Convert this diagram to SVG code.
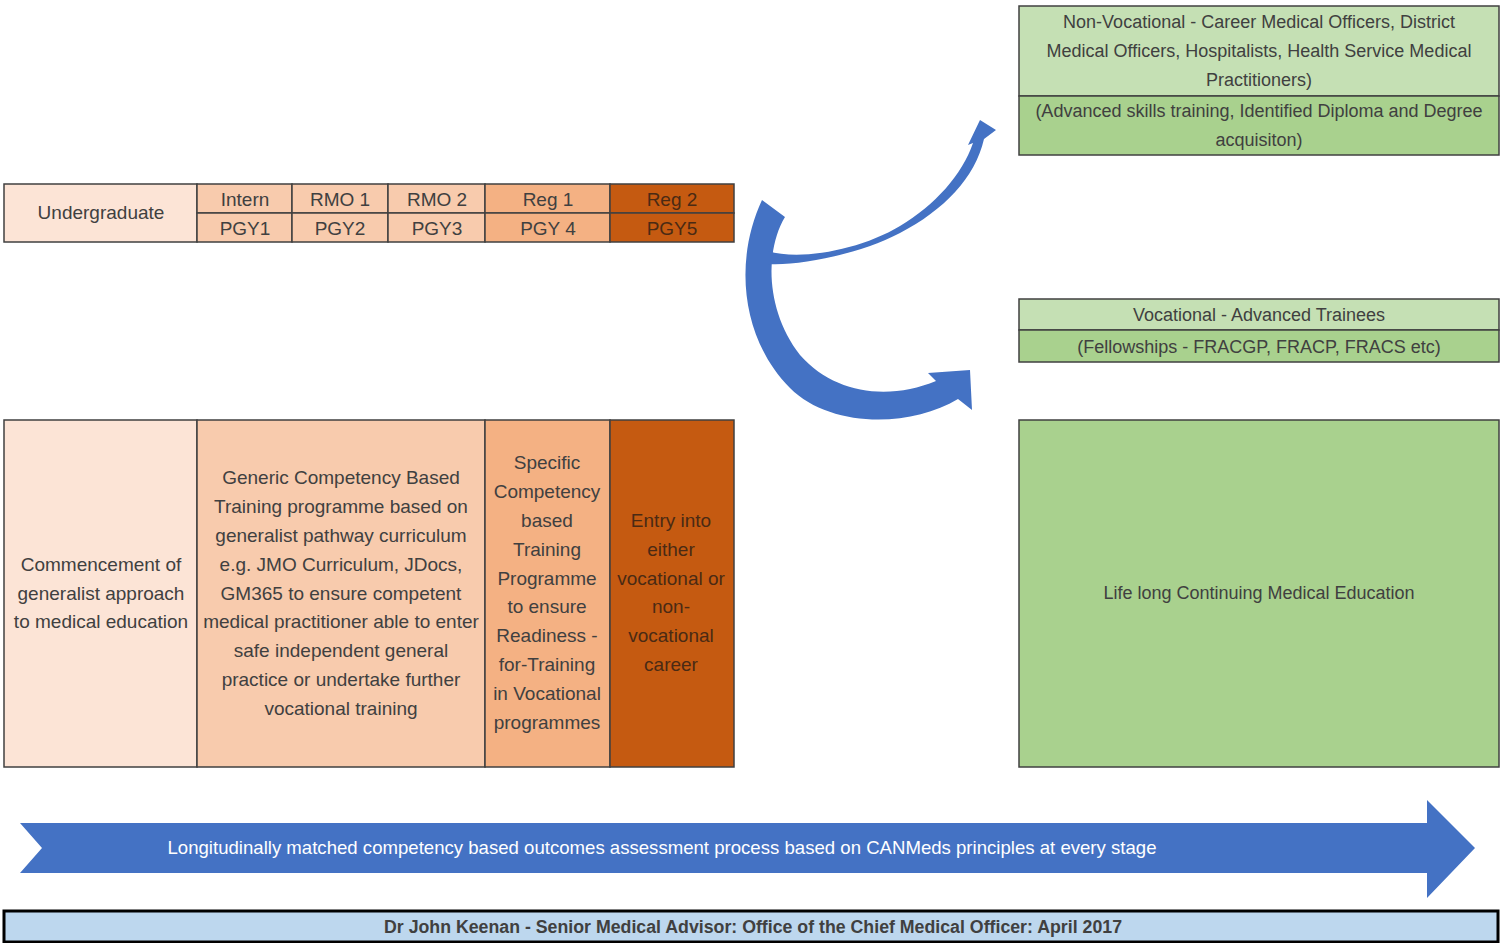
<svg xmlns="http://www.w3.org/2000/svg" width="1500" height="943" viewBox="0 0 1500 943">
<style>
.t{font-family:"Liberation Sans",Arial,sans-serif;font-size:19px;fill:#404040;text-anchor:middle}
.g{font-family:"Liberation Sans",Arial,sans-serif;font-size:18px;fill:#404040;text-anchor:middle}
.c{stroke:#404040;stroke-width:1.5}
.p1{fill:#FCE4D6}.p2{fill:#F8CBAD}.p3{fill:#F4B183}.p4{fill:#C55A11}
.g1{fill:#C5E0B4}.g2{fill:#A9D18E}
.arr{fill:#4472C4}
</style>
<rect width="1500" height="943" fill="#ffffff"/>

<g id="timeline">
<rect class="p1 c" x="4" y="184" width="193" height="58"/>
<rect class="p2 c" x="197" y="184" width="95" height="29"/>
<rect class="p2 c" x="197" y="213" width="95" height="29"/>
<rect class="p2 c" x="292" y="184" width="96" height="29"/>
<rect class="p2 c" x="292" y="213" width="96" height="29"/>
<rect class="p2 c" x="388" y="184" width="97" height="29"/>
<rect class="p2 c" x="388" y="213" width="97" height="29"/>
<rect class="p3 c" x="485" y="184" width="125" height="29"/>
<rect class="p3 c" x="485" y="213" width="125" height="29"/>
<rect class="p4 c" x="610" y="184" width="124" height="29"/>
<rect class="p4 c" x="610" y="213" width="124" height="29"/>
<text class="t" x="101" y="219">Undergraduate</text>
<text class="t" x="245" y="206">Intern</text>
<text class="t" x="245" y="235">PGY1</text>
<text class="t" x="340" y="206">RMO 1</text>
<text class="t" x="340" y="235">PGY2</text>
<text class="t" x="437" y="206">RMO 2</text>
<text class="t" x="437" y="235">PGY3</text>
<text class="t" x="548" y="206">Reg 1</text>
<text class="t" x="548" y="235">PGY 4</text>
<text class="t" x="672" y="206" style="fill:#4a2a14">Reg 2</text>
<text class="t" x="672" y="235" style="fill:#4a2a14">PGY5</text>
</g>

<g id="stage-undergrad">
<rect class="p1 c" x="4" y="420" width="193" height="347"/>
<text class="t" x="101" y="571">Commencement of</text>
<text class="t" x="101" y="600">generalist approach</text>
<text class="t" x="101" y="628">to medical education</text>
</g>

<g id="stage-generic">
<rect class="p2 c" x="197" y="420" width="288" height="347"/>
<text class="t" x="341" y="484">Generic Competency Based</text>
<text class="t" x="341" y="513">Training programme based on</text>
<text class="t" x="341" y="542">generalist pathway curriculum</text>
<text class="t" x="341" y="571">e.g. JMO Curriculum, JDocs,</text>
<text class="t" x="341" y="600">GM365 to ensure competent</text>
<text class="t" x="341" y="628">medical practitioner able to enter</text>
<text class="t" x="341" y="657">safe independent general</text>
<text class="t" x="341" y="686">practice or undertake further</text>
<text class="t" x="341" y="715">vocational training</text>
</g>

<g id="stage-specific">
<rect class="p3 c" x="485" y="420" width="125" height="347"/>
<text class="t" x="547" y="469">Specific</text>
<text class="t" x="547" y="498">Competency</text>
<text class="t" x="547" y="527">based</text>
<text class="t" x="547" y="556">Training</text>
<text class="t" x="547" y="585">Programme</text>
<text class="t" x="547" y="613">to ensure</text>
<text class="t" x="547" y="642">Readiness -</text>
<text class="t" x="547" y="671">for-Training</text>
<text class="t" x="547" y="700">in Vocational</text>
<text class="t" x="547" y="729">programmes</text>
</g>

<g id="stage-entry">
<rect class="p4 c" x="610" y="420" width="124" height="347"/>
<text class="t" x="671" y="527" style="fill:#4a2a14">Entry into</text>
<text class="t" x="671" y="556" style="fill:#4a2a14">either</text>
<text class="t" x="671" y="585" style="fill:#4a2a14">vocational or</text>
<text class="t" x="671" y="613" style="fill:#4a2a14">non-</text>
<text class="t" x="671" y="642" style="fill:#4a2a14">vocational</text>
<text class="t" x="671" y="671" style="fill:#4a2a14">career</text>
</g>

<g id="non-vocational">
<rect class="g1 c" x="1019" y="6" width="480" height="90"/>
<rect class="g2 c" x="1019" y="96" width="480" height="59"/>
<text class="g" x="1259" y="28">Non-Vocational - Career Medical Officers, District</text>
<text class="g" x="1259" y="57">Medical Officers, Hospitalists, Health Service Medical</text>
<text class="g" x="1259" y="86">Practitioners)</text>
<text class="g" x="1259" y="117">(Advanced skills training, Identified Diploma and Degree</text>
<text class="g" x="1259" y="146">acquisiton)</text>
</g>

<g id="vocational">
<rect class="g1 c" x="1019" y="299" width="480" height="31"/>
<rect class="g2 c" x="1019" y="330" width="480" height="32"/>
<text class="g" x="1259" y="321">Vocational - Advanced Trainees</text>
<text class="g" x="1259" y="353">(Fellowships - FRACGP, FRACP, FRACS etc)</text>
</g>

<g id="cme">
<rect class="g2 c" x="1019" y="420" width="480" height="347"/>
<text class="g" x="1259" y="599">Life long Continuing Medical Education</text>
</g>

<g id="connectors">
<path class="arr" d="M762,200 L785,217 C765,250 765,310 800,355 C835,395 890,400 936,381 L928,373 L970,370 L972,410 L958,399 C910,428 830,428 790,388 C742,340 733,262 762,200 Z"/>
<path class="arr" d="M768,251 C800,261 860,250 900,226 C935,205 962,175 973,143 L968,145 L980,120 L996,130 L984,139 C975,178 944,210 900,233 C860,254 800,266 768,264 Z"/>
</g>

<g id="assessment-arrow">
<path class="arr" d="M20,823 L1427,823 L1427,800 L1475,848 L1427,898 L1427,873 L20,873 L42,848 Z"/>
<text x="662" y="854" font-family="Liberation Sans,Arial,sans-serif" font-size="19" fill="#ffffff" text-anchor="middle" textLength="989" lengthAdjust="spacingAndGlyphs">Longitudinally matched competency based outcomes assessment process based on CANMeds principles at every stage</text>
</g>

<g id="footer">
<rect x="4" y="911" width="1494" height="31" fill="#BDD7EE" stroke="#000000" stroke-width="3"/>
<text x="753" y="933" font-family="Liberation Sans,Arial,sans-serif" font-size="18" font-weight="bold" fill="#404040" text-anchor="middle" textLength="738" lengthAdjust="spacingAndGlyphs">Dr John Keenan - Senior Medical Advisor: Office of the Chief Medical Officer: April 2017</text>
</g>
</svg>
